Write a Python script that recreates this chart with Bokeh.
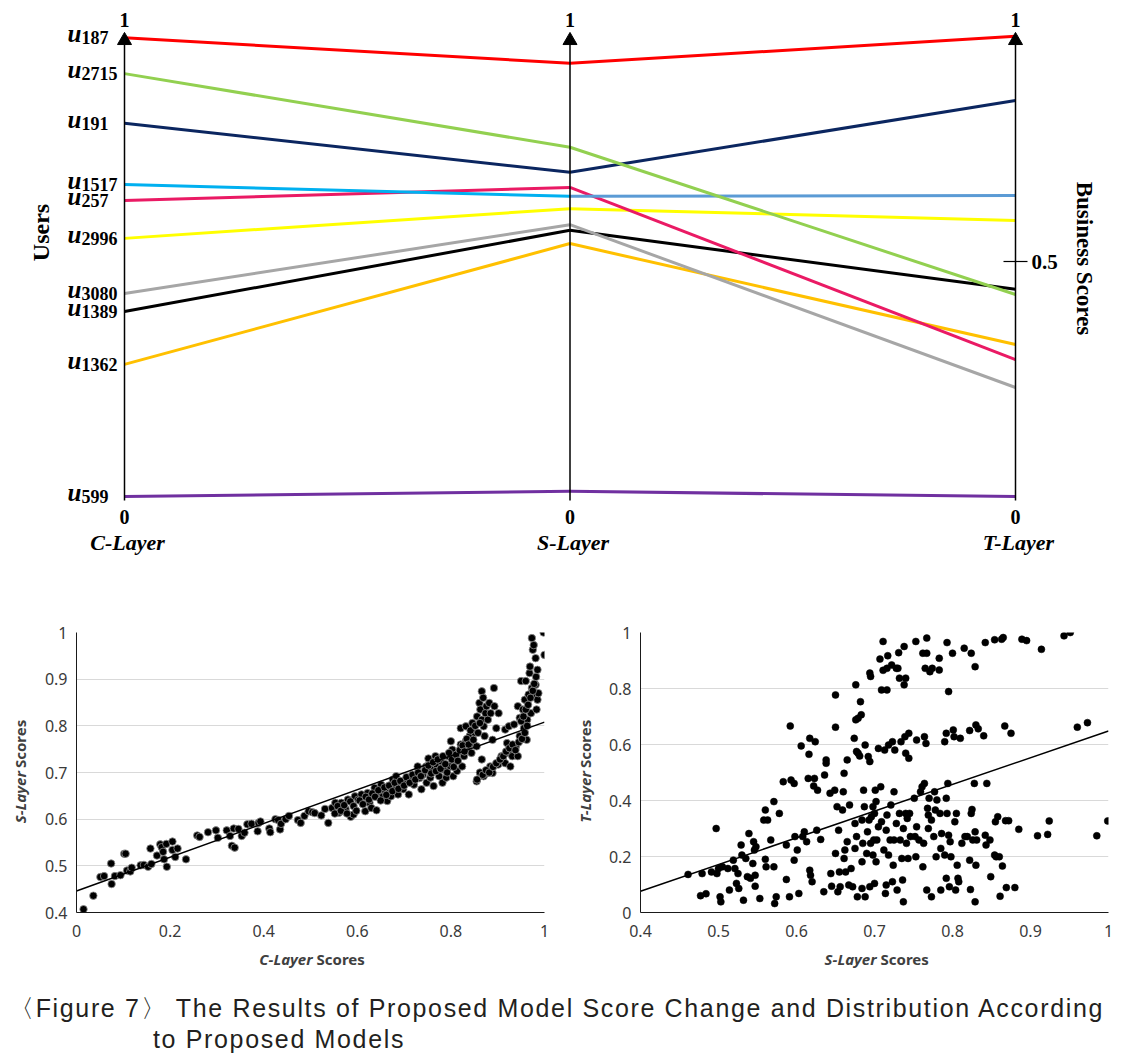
import math
from bokeh.plotting import figure
from bokeh.models import Range1d, FixedTicker, CustomJSTickFormatter, Div
from bokeh.layouts import column, row
from bokeh.core.properties import value
from bokeh.embed import file_html
from bokeh.resources import INLINE

# ---------------- data: parallel coordinates (top) ----------------
layers = ["C-Layer", "S-Layer", "T-Layer"]
user_ids = ["187", "2715", "191", "1517", "257", "2996", "3080", "1389", "1362", "599"]
c_scores = [0.974, 0.898, 0.793, 0.663, 0.629, 0.549, 0.432, 0.394, 0.282, 0.002]
s_scores = [0.920, 0.742, 0.689, 0.638, 0.657, 0.612, 0.578, 0.566, 0.538, 0.013]
t_scores = [0.977, 0.430, 0.841, 0.640, 0.292, 0.587, 0.233, 0.441, 0.324, 0.002]
colors_cs = ["#ff0000", "#92d050", "#0b2660", "#00b0f0", "#ea1a64", "#ffff00",
             "#a6a6a6", "#000000", "#ffc000", "#7030a0"]
colors_st = ["#ff0000", "#92d050", "#0b2660", "#5b9bd5", "#ea1a64", "#ffff00",
             "#a6a6a6", "#000000", "#ffc000", "#7030a0"]
axis_ticks_top = [0.5]

# ---------------- data: C-Layer vs S-Layer scatter ----------------
cs_x = [0.015, 0.036, 0.051, 0.059, 0.074, 0.075, 0.082, 0.094, 0.102, 0.105,
        0.108, 0.115, 0.118, 0.137, 0.144, 0.153, 0.158, 0.160, 0.172, 0.179,
        0.182, 0.185, 0.187, 0.193, 0.192, 0.205, 0.205, 0.211, 0.216, 0.234,
        0.258, 0.263, 0.281, 0.298, 0.302, 0.321, 0.328, 0.332, 0.338, 0.336,
        0.346, 0.353, 0.359, 0.365, 0.374, 0.387, 0.389, 0.393, 0.412, 0.414,
        0.425, 0.431, 0.435, 0.437, 0.447, 0.454, 0.473, 0.479, 0.487, 0.496,
        0.504, 0.509, 0.523, 0.531, 0.538, 0.546, 0.553, 0.561, 0.566, 0.575,
        0.580, 0.586, 0.592, 0.595, 0.602, 0.609, 0.617, 0.622, 0.626, 0.630,
        0.641, 0.637, 0.645, 0.651, 0.655, 0.660, 0.664, 0.672, 0.676, 0.679,
        0.687, 0.683, 0.695, 0.698, 0.706, 0.710, 0.716, 0.721, 0.729, 0.733,
        0.737, 0.740, 0.747, 0.748, 0.752, 0.756, 0.760, 0.763, 0.767, 0.771,
        0.775, 0.779, 0.782, 0.786, 0.790, 0.794, 0.798, 0.800, 0.803, 0.805,
        0.809, 0.813, 0.817, 0.821, 0.824, 0.821, 0.832, 0.828, 0.832, 0.836,
        0.840, 0.844, 0.846, 0.847, 0.851, 0.855, 0.856, 0.861, 0.863, 0.866,
        0.869, 0.866, 0.870, 0.872, 0.874, 0.855, 0.863, 0.866, 0.870, 0.876,
        0.879, 0.882, 0.885, 0.878, 0.884, 0.889, 0.893, 0.892, 0.897, 0.889,
        0.902, 0.901, 0.908, 0.912, 0.916, 0.916, 0.920, 0.924, 0.924, 0.927,
        0.931, 0.935, 0.939, 0.943, 0.947, 0.943, 0.947, 0.950, 0.954, 0.956,
        0.958, 0.960, 0.962, 0.963, 0.966, 0.968, 0.969, 0.971, 0.973, 0.973,
        0.975, 0.977, 0.979, 0.981, 0.981, 0.983, 0.985, 0.987, 0.998, 1.000,
        0.552, 0.558, 0.565, 0.572, 0.578, 0.585, 0.592, 0.598, 0.605, 0.612,
        0.618, 0.625, 0.632, 0.638, 0.645, 0.650, 0.658, 0.662, 0.668, 0.675,
        0.680, 0.688, 0.692, 0.700, 0.705, 0.712, 0.718, 0.724, 0.730, 0.736,
        0.745, 0.752, 0.758, 0.762, 0.768, 0.772, 0.778, 0.783, 0.788, 0.792,
        0.796, 0.802, 0.806, 0.811, 0.815, 0.819, 0.825, 0.829, 0.834, 0.838,
        0.842, 0.848, 0.852, 0.858, 0.862,
        0.856, 0.862, 0.868, 0.875, 0.882, 0.890, 0.897, 0.905, 0.912, 0.918,
        0.925, 0.932, 0.938, 0.945, 0.952, 0.958, 0.963,
        0.950, 0.955, 0.960, 0.965, 0.970, 0.975, 0.978, 0.982, 0.985]
cs_y = [0.407, 0.436, 0.476, 0.478, 0.505, 0.461, 0.478, 0.480, 0.526, 0.526,
        0.490, 0.488, 0.496, 0.501, 0.502, 0.498, 0.537, 0.504, 0.522, 0.546,
        0.540, 0.530, 0.514, 0.498, 0.547, 0.552, 0.534, 0.519, 0.537, 0.514,
        0.565, 0.562, 0.572, 0.576, 0.560, 0.576, 0.564, 0.543, 0.539, 0.580,
        0.579, 0.564, 0.571, 0.589, 0.590, 0.574, 0.592, 0.595, 0.580, 0.572,
        0.600, 0.598, 0.578, 0.590, 0.600, 0.607, 0.598, 0.592, 0.607, 0.617,
        0.615, 0.613, 0.608, 0.622, 0.592, 0.624, 0.635, 0.614, 0.635, 0.622,
        0.642, 0.605, 0.610, 0.649, 0.642, 0.653, 0.617, 0.656, 0.635, 0.624,
        0.619, 0.667, 0.656, 0.674, 0.649, 0.660, 0.639, 0.649, 0.685, 0.664,
        0.653, 0.692, 0.671, 0.664, 0.685, 0.653, 0.692, 0.674, 0.713, 0.688,
        0.664, 0.695, 0.713, 0.678, 0.730, 0.689, 0.706, 0.671, 0.735, 0.713,
        0.692, 0.724, 0.678, 0.706, 0.689, 0.735, 0.713, 0.767, 0.749, 0.692,
        0.724, 0.703, 0.742, 0.760, 0.713, 0.795, 0.799, 0.735, 0.767, 0.752,
        0.778, 0.742, 0.806, 0.763, 0.785, 0.756, 0.820, 0.849, 0.835, 0.874,
        0.860, 0.813, 0.799, 0.778, 0.827, 0.681, 0.699, 0.728, 0.692, 0.842,
        0.813, 0.849, 0.827, 0.699, 0.713, 0.770, 0.842, 0.881, 0.795, 0.699,
        0.827, 0.717, 0.735, 0.724, 0.792, 0.720, 0.763, 0.742, 0.799, 0.713,
        0.735, 0.803, 0.756, 0.735, 0.778, 0.842, 0.817, 0.896, 0.835, 0.795,
        0.856, 0.896, 0.770, 0.813, 0.867, 0.913, 0.927, 0.827, 0.881, 0.988,
        0.963, 0.973, 0.863, 0.945, 0.888, 0.835, 0.856, 0.870, 1.000, 0.952,
        0.612, 0.628, 0.618, 0.630, 0.612, 0.638, 0.628, 0.618, 0.640, 0.632,
        0.648, 0.642, 0.655, 0.648, 0.662, 0.640, 0.668, 0.652, 0.672, 0.660,
        0.678, 0.665, 0.682, 0.672, 0.690, 0.678, 0.695, 0.685, 0.700, 0.692,
        0.705, 0.715, 0.698, 0.722, 0.703, 0.728, 0.708, 0.735, 0.718, 0.700,
        0.742, 0.728, 0.712, 0.738, 0.725, 0.748, 0.758, 0.745, 0.772, 0.760,
        0.790, 0.770, 0.800, 0.785, 0.806,
        0.685, 0.700, 0.695, 0.705, 0.700, 0.712, 0.720, 0.728, 0.735, 0.745,
        0.752, 0.760, 0.748, 0.765, 0.772, 0.785, 0.800,
        0.810, 0.820, 0.835, 0.845, 0.860, 0.875, 0.890, 0.905, 0.920]
cs_trend_x = [0.0, 1.0]
cs_trend_y = [0.446, 0.808]

# ---------------- data: S-Layer vs T-Layer scatter ----------------
st_x = [0.461, 0.477, 0.479, 0.484, 0.491, 0.497, 0.498, 0.500, 0.502, 0.503,
        0.505, 0.512, 0.514, 0.519, 0.521, 0.523, 0.525, 0.526, 0.529, 0.530,
        0.532, 0.535, 0.537, 0.539, 0.541, 0.544, 0.545, 0.546, 0.547, 0.547,
        0.548, 0.553, 0.558, 0.560, 0.560, 0.561, 0.563, 0.567, 0.571, 0.571,
        0.572, 0.574, 0.578, 0.583, 0.587, 0.587, 0.591, 0.592, 0.593, 0.597,
        0.597, 0.598, 0.601, 0.603, 0.606, 0.608, 0.610, 0.613, 0.615, 0.616,
        0.617, 0.617, 0.618, 0.620, 0.622, 0.623, 0.624, 0.626, 0.627, 0.631,
        0.635, 0.636, 0.638, 0.638, 0.643, 0.644, 0.645, 0.649, 0.650, 0.650,
        0.650, 0.652, 0.653, 0.654, 0.655, 0.656, 0.659, 0.660, 0.661, 0.661,
        0.662, 0.663, 0.665, 0.665, 0.667, 0.668, 0.670, 0.672, 0.674, 0.675,
        0.675, 0.676, 0.676, 0.677, 0.677, 0.678, 0.679, 0.679, 0.681, 0.682,
        0.683, 0.684, 0.684, 0.684, 0.685, 0.686, 0.687, 0.688, 0.688, 0.690,
        0.691, 0.692, 0.693, 0.694, 0.694, 0.695, 0.696, 0.698, 0.694, 0.695,
        0.698, 0.699, 0.700, 0.700, 0.701, 0.702, 0.702, 0.703, 0.705, 0.705,
        0.707, 0.708, 0.709, 0.709, 0.711, 0.711, 0.712, 0.713, 0.714, 0.715,
        0.715, 0.716, 0.716, 0.716, 0.717, 0.718, 0.718, 0.720, 0.721, 0.722,
        0.723, 0.723, 0.724, 0.725, 0.725, 0.726, 0.728, 0.728, 0.729, 0.730,
        0.731, 0.732, 0.732, 0.733, 0.734, 0.735, 0.736, 0.737, 0.737, 0.738,
        0.738, 0.739, 0.740, 0.740, 0.740, 0.741, 0.742, 0.743, 0.744, 0.744,
        0.745, 0.746, 0.751, 0.752, 0.753, 0.753, 0.754, 0.754, 0.757, 0.759,
        0.761, 0.762, 0.762, 0.763, 0.764, 0.764, 0.765, 0.766, 0.767, 0.767,
        0.767, 0.768, 0.769, 0.769, 0.770, 0.771, 0.773, 0.773, 0.774, 0.776,
        0.777, 0.778, 0.779, 0.780, 0.783, 0.783, 0.784, 0.785, 0.785, 0.786,
        0.790, 0.790, 0.792, 0.792, 0.792, 0.793, 0.793, 0.794, 0.795, 0.795,
        0.796, 0.797, 0.798, 0.800, 0.801, 0.802, 0.803, 0.804, 0.805, 0.806,
        0.807, 0.808, 0.810, 0.812, 0.815, 0.816, 0.819, 0.822, 0.822, 0.823,
        0.824, 0.824, 0.825, 0.826, 0.828, 0.829, 0.829, 0.829, 0.830, 0.830,
        0.831, 0.833, 0.840, 0.842, 0.842, 0.844, 0.843, 0.848, 0.849, 0.854,
        0.854, 0.855, 0.856, 0.858, 0.860, 0.861, 0.863, 0.864, 0.865, 0.867,
        0.868, 0.869, 0.872, 0.875, 0.880, 0.885, 0.889, 0.895, 0.909, 0.914,
        0.922, 0.924, 0.943, 0.951, 0.960, 0.973, 0.985, 0.999]
st_y = [0.136, 0.060, 0.139, 0.067, 0.145, 0.300, 0.139, 0.157, 0.056, 0.038,
        0.163, 0.157, 0.080, 0.187, 0.157, 0.104, 0.139, 0.086, 0.241, 0.205,
        0.044, 0.193, 0.128, 0.282, 0.122, 0.175, 0.253, 0.223, 0.133, 0.094,
        0.235, 0.050, 0.330, 0.366, 0.190, 0.163, 0.330, 0.259, 0.396, 0.163,
        0.032, 0.056, 0.354, 0.467, 0.241, 0.118, 0.056, 0.666, 0.473, 0.461,
        0.187, 0.271, 0.223, 0.068, 0.595, 0.271, 0.288, 0.253, 0.479, 0.565,
        0.622, 0.151, 0.133, 0.110, 0.452, 0.479, 0.610, 0.294, 0.437, 0.261,
        0.074, 0.491, 0.533, 0.545, 0.426, 0.139, 0.094, 0.437, 0.662, 0.211,
        0.777, 0.378, 0.074, 0.294, 0.145, 0.092, 0.366, 0.431, 0.497, 0.193,
        0.223, 0.145, 0.253, 0.545, 0.098, 0.384, 0.157, 0.092, 0.622, 0.229,
        0.318, 0.813, 0.688, 0.271, 0.575, 0.056, 0.569, 0.694, 0.559, 0.753,
        0.706, 0.330, 0.181, 0.086, 0.247, 0.437, 0.378, 0.598, 0.056, 0.211,
        0.288, 0.557, 0.330, 0.539, 0.092, 0.247, 0.342, 0.378, 0.855, 0.843,
        0.205, 0.259, 0.354, 0.104, 0.437, 0.396, 0.181, 0.259, 0.586, 0.306,
        0.905, 0.449, 0.324, 0.795, 0.968, 0.865, 0.223, 0.580, 0.068, 0.098,
        0.294, 0.348, 0.872, 0.795, 0.917, 0.598, 0.205, 0.259, 0.384, 0.884,
        0.610, 0.110, 0.169, 0.431, 0.259, 0.580, 0.872, 0.318, 0.080, 0.872,
        0.928, 0.837, 0.354, 0.259, 0.610, 0.193, 0.116, 0.300, 0.038, 0.950,
        0.813, 0.628, 0.569, 0.354, 0.837, 0.247, 0.336, 0.193, 0.640, 0.551,
        0.354, 0.271, 0.408, 0.271, 0.968, 0.199, 0.616, 0.306, 0.259, 0.431,
        0.449, 0.926, 0.163, 0.247, 0.628, 0.461, 0.872, 0.604, 0.980, 0.080,
        0.926, 0.372, 0.348, 0.300, 0.408, 0.860, 0.330, 0.056, 0.872, 0.271,
        0.431, 0.366, 0.199, 0.402, 0.866, 0.908, 0.354, 0.229, 0.080, 0.282,
        0.610, 0.205, 0.408, 0.122, 0.640, 0.354, 0.964, 0.461, 0.789, 0.276,
        0.092, 0.253, 0.199, 0.926, 0.652, 0.628, 0.324, 0.080, 0.354, 0.169,
        0.122, 0.110, 0.622, 0.247, 0.944, 0.271, 0.271, 0.650, 0.187, 0.082,
        0.354, 0.926, 0.368, 0.259, 0.461, 0.878, 0.288, 0.038, 0.670, 0.169,
        0.259, 0.656, 0.631, 0.964, 0.276, 0.461, 0.241, 0.259, 0.128, 0.974,
        0.205, 0.324, 0.199, 0.342, 0.199, 0.058, 0.976, 0.166, 0.982, 0.666,
        0.328, 0.089, 0.328, 0.640, 0.089, 0.297, 0.976, 0.971, 0.274, 0.940,
        0.279, 0.327, 0.988, 1.000, 0.662, 0.678, 0.274, 0.327]
st_trend_x = [0.4, 1.0]
st_trend_y = [0.076, 0.648]

cs_xticks = [0, 0.2, 0.4, 0.6, 0.8, 1.0]
cs_yticks = [0.4, 0.5, 0.6, 0.7, 0.8, 0.9, 1.0]
st_xticks = [0.4, 0.5, 0.6, 0.7, 0.8, 0.9, 1.0]
st_yticks = [0, 0.2, 0.4, 0.6, 0.8, 1.0]

caption_lines = ["\u3008Figure 7\u3009 The Results of Proposed Model Score Change and Distribution According",
                 "to Proposed Models"]

SERIF = "Liberation Serif"
SANS = "Noto Sans"
W = 1131

# ================= top panel =================
TOP_H = 600
PXX = 445.5   # pixels per layer step
PXY = 472.0   # pixels per score unit
AX0 = 124     # x pixel of first axis
Y0 = 497      # y pixel of score 0


def tx(px):
    return (px - AX0) / PXX


def ty(py):
    return (Y0 - py) / PXY


top = figure(width=W, height=TOP_H, x_range=Range1d(tx(0), tx(W)), y_range=Range1d(ty(TOP_H), ty(0)),
             output_backend="svg", toolbar_location=None, min_border=0,
             x_axis_type=None, y_axis_type=None)
top.outline_line_color = None

n = len(user_ids)
for i in range(n - 1, -1, -1):
    top.line([0, 1], [c_scores[i], s_scores[i]], line_color=colors_cs[i], line_width=3)
    top.line([1, 2], [s_scores[i], t_scores[i]], line_color=colors_st[i], line_width=3)

ax_pos = [0, 1, 2]
top.segment(x0=ax_pos, x1=ax_pos, y0=[ty(Y0 + 3)] * 3, y1=[ty(44)] * 3, line_color="black", line_width=1.5)
top.scatter(x=ax_pos, y=[ty(40)] * 3, marker="triangle", size=14, fill_color="black", line_color="black")

serif_bold = dict(text_font=value(SERIF), text_font_style="bold", text_color="black", text_baseline="middle")
top.text(x=ax_pos, y=[ty(19)] * 3, text=["1"] * 3, text_font_size="20px", text_align="center", **serif_bold)
top.text(x=ax_pos, y=[ty(516)] * 3, text=["0"] * 3, text_font_size="20px", text_align="center", **serif_bold)
top.text(x=ax_pos, y=[ty(542)] * 3, text=layers, x_offset=3, text_font=value(SERIF),
         text_font_style="bold italic", text_font_size="22px", text_align="center",
         text_baseline="middle", text_color="black")

top.text(x=[0] * n, y=c_scores, text=["u"] * n, x_offset=-57, y_offset=-4, text_font=value(SERIF),
         text_font_style="bold italic", text_font_size="25px", text_align="left",
         text_baseline="middle", text_color="black")
top.text(x=[0] * n, y=c_scores, text=user_ids, x_offset=-43, y_offset=0, text_font_size="18px",
         text_align="left", **serif_bold)

top.text(x=[tx(40)], y=[ty(232)], text=["Users"], angle=math.pi / 2, text_font_size="24px",
         text_align="center", **serif_bold)
top.text(x=[tx(1084)], y=[ty(258)], text=["Business Scores"], angle=-math.pi / 2, text_font_size="23px",
         text_align="center", **serif_bold)

top.segment(x0=[2 - 12 / PXX], x1=[2 + 12 / PXX], y0=axis_ticks_top, y1=axis_ticks_top,
            line_color="black", line_width=1.2)
top.text(x=[2], y=axis_ticks_top, text=["0.5"], x_offset=16, text_font_size="21px", text_align="left",
         **serif_bold)

# ================= bottom scatter panels =================
fmt_code = "return String(Math.round(tick*10)/10);"
PLOT_H = 345      # 32 top border + 280 frame + 33 bottom border
XT_H = 40
LABEL_COLOR = "#404040"
TICK_COLOR = "#3a3a3a"


def text_fig(w, h):
    f = figure(width=w, height=h, x_range=Range1d(0, w), y_range=Range1d(0, h),
               output_backend="svg", toolbar_location=None, min_border=0,
               x_axis_type=None, y_axis_type=None)
    f.outline_line_color = None
    return f


def style_scatter(p, xticks, yticks):
    p.outline_line_color = None
    for ax, ticks in ((p.xaxis[0], xticks), (p.yaxis[0], yticks)):
        ax.ticker = FixedTicker(ticks=ticks)
        ax.formatter = CustomJSTickFormatter(code=fmt_code)
        ax.axis_line_color = "#1a1a1a"
        ax.axis_line_width = 1
        ax.major_tick_line_color = None
        ax.minor_tick_line_color = None
        ax.major_tick_out = 0
        ax.major_tick_in = 0
        ax.major_label_text_font = SANS
        ax.major_label_text_font_size = "16px"
        ax.major_label_text_color = TICK_COLOR
    p.xaxis[0].major_label_standoff = 12
    p.yaxis[0].major_label_standoff = 9
    p.xgrid.grid_line_color = None
    p.ygrid.ticker = FixedTicker(ticks=yticks)
    p.ygrid.grid_line_color = "#d9d9d9"
    p.ygrid.grid_line_width = 1


title_common = dict(text_font=value(SANS), text_font_size="15px", text_color=LABEL_COLOR,
                    text_baseline="middle")


def y_title(f, first, cx, cy):
    h = f.height
    f.text(x=[cx], y=[h - (cy - 1)], text=[first], angle=math.pi / 2, text_align="right",
           text_font_style="bold italic", **title_common)
    f.text(x=[cx], y=[h - (cy - 5)], text=["Scores"], angle=math.pi / 2, text_align="left",
           text_font_style="bold", **title_common)


# left block
ly = text_fig(36, PLOT_H)
y_title(ly, "S-Layer", 19, 172)
lp = figure(width=532, height=PLOT_H, x_range=Range1d(0, 1), y_range=Range1d(0.4, 1),
            output_backend="svg", toolbar_location=None,
            min_border_left=40, min_border_right=24, min_border_top=32, min_border_bottom=33)
style_scatter(lp, cs_xticks, cs_yticks)
lp.scatter(cs_x, cs_y, size=7.5, fill_color="black", line_color="#8f8f8f", line_width=0.8)
lp.line(cs_trend_x, cs_trend_y, line_color="black", line_width=1.5)

# right block
ry = text_fig(34, PLOT_H)
y_title(ry, "T-Layer", 16, 172)
rp = figure(width=529, height=PLOT_H, x_range=Range1d(0.4, 1), y_range=Range1d(0, 1),
            output_backend="svg", toolbar_location=None,
            min_border_left=38, min_border_right=23, min_border_top=32, min_border_bottom=33)
style_scatter(rp, st_xticks, st_yticks)
rp.scatter(st_x, st_y, size=7, fill_color="black", line_color="black", line_width=0.5)
rp.line(st_trend_x, st_trend_y, line_color="black", line_width=1.5)

# x titles
xt = text_fig(W, XT_H)
for cx, first in ((310, "C-Layer"), (874, "S-Layer")):
    xt.text(x=[cx + 2], y=[XT_H - 13], text=[first], text_align="right",
            text_font_style="bold italic", **title_common)
    xt.text(x=[cx + 6], y=[XT_H - 13], text=["Scores"], text_align="left",
            text_font_style="bold", **title_common)

# ================= caption =================
CAP_H = 1057 - TOP_H - PLOT_H - XT_H
cap_html = (
    '<div style="font-family: \'Liberation Sans\', Arial, sans-serif; font-size: 25px; '
    'letter-spacing: 1.65px; line-height: 31px; color: #231f20; '
    'white-space: nowrap; padding-top: 3px; margin: 0;">'
    '<div style="padding-left: 4px;">' + caption_lines[0] + '</div>'
    '<div style="padding-left: 148px;">' + caption_lines[1] + '</div>'
    '</div>'
)
cap = Div(text=cap_html, width=W, height=CAP_H)

layout = column(top, column(row(ly, lp, ry, rp), xt), cap)
open("out.html", "w").write(file_html(layout, INLINE))
